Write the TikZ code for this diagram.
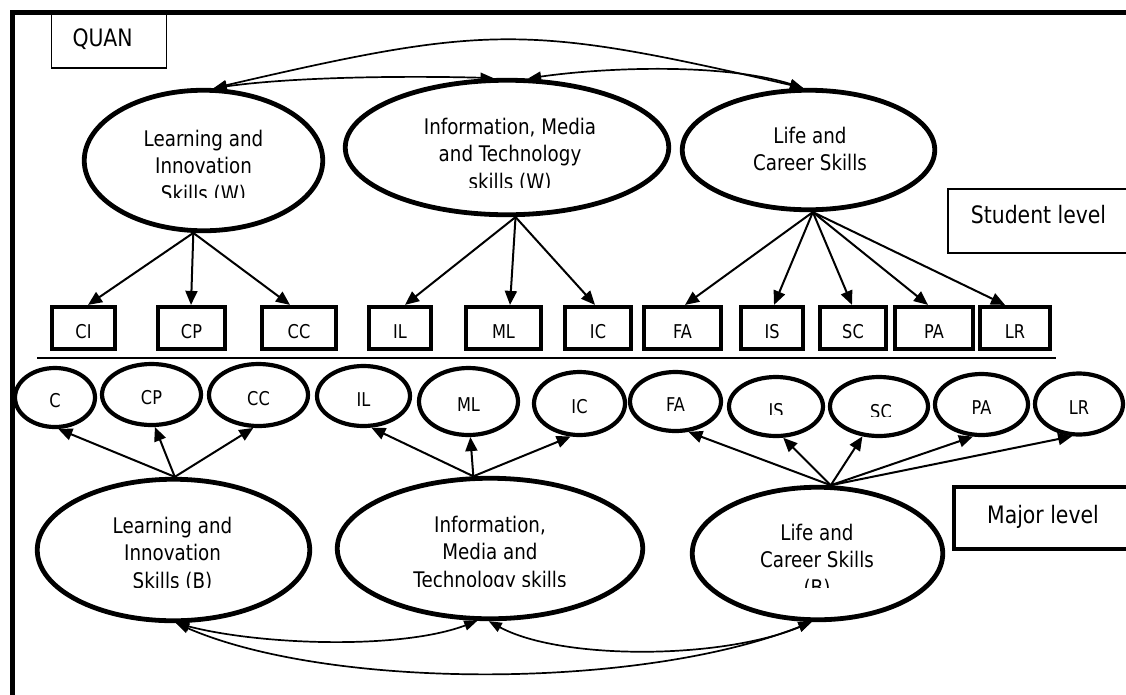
\documentclass[tikz,border=0pt]{standalone}
\usepackage{fontspec}
\setmainfont{DejaVu Sans}[FakeStretch=0.85]
\usetikzlibrary{shapes.geometric,arrows.meta}
\newcommand\Ls{\rule[-6.5pt]{0pt}{27.5pt}}
\begin{document}
\begin{tikzpicture}[x=1pt,y=-1pt,
  bigell/.style={ellipse,draw,line width=4.8pt,inner sep=0pt},
  smell/.style={ellipse,draw,line width=4.2pt,inner sep=0pt,font=\fontsize{19}{23}\selectfont,text height=20pt,text depth=0pt},
  ibox/.style={rectangle,draw,line width=4.2pt,inner sep=0pt,minimum height=42pt,font=\fontsize{19}{23}\selectfont,text height=20pt,text depth=0pt},
  mtext/.style={align=center,inner sep=0pt,outer sep=0pt,anchor=north,font=\fontsize{21.5}{27.5}\selectfont},
  stext/.style={inner sep=0pt,outer sep=0pt,anchor=base,font=\fontsize{19}{23}\selectfont},
  lvl/.style={rectangle,draw,inner sep=0pt,font=\fontsize{24}{28}\selectfont},
  con/.style={line width=2pt,arrows={-Triangle[length=14pt,width=12pt]}},
  cur/.style={line width=1.7pt,arrows={Triangle[length=13pt,width=10pt]-Triangle[length=13pt,width=10pt]}}
]
\useasboundingbox (0,0) rectangle (1126,694);
\fill[white] (0,0) rectangle (1126,694);
% frame
\draw[line width=4.5pt,line join=miter] (1140,12.5) -- (12.5,12.5) -- (12.5,710);
% labels
\node[lvl,line width=1.3pt,minimum height=55pt,text width=73pt,inner xsep=21pt,align=left,text height=17pt,text depth=6pt] (quan) at (109,40.5) {QUAN};
\node[lvl,line width=2pt,minimum width=181pt,minimum height=64pt,text height=17pt,text depth=13pt] (student) at (1038.5,221) {Student level};
\node[lvl,line width=4pt,minimum width=178pt,minimum height=62pt,text height=17pt,text depth=7pt] (major) at (1043,518) {Major level};
% big ellipses
\node[bigell,minimum width=238.5pt,minimum height=140.5pt] (LISw) at (203.5,160.5) {};
\node[bigell,minimum width=323.5pt,minimum height=134.5pt] (IMTw) at (507,147.5) {};
\node[bigell,minimum width=252.5pt,minimum height=119.5pt] (LCSw) at (808.5,150) {};
\node[bigell,minimum width=272.5pt,minimum height=141.5pt] (LISb) at (173.5,550) {};
\node[bigell,minimum width=305.5pt,minimum height=140.5pt] (IMTb) at (490,548.5) {};
\node[bigell,minimum width=250.5pt,minimum height=132.5pt] (LCSb) at (817.5,553.5) {};
% texts in big ellipses
\begin{scope}
\clip (80,100) rectangle (330,197);
\node[mtext] (LISwT) at (203.5,125) {\Ls Learning and\\\Ls Innovation\\\Ls Skills (W)};
\end{scope}
\begin{scope}
\clip (340,90) rectangle (675,187);
\node[mtext] (IMTwT) at (510,113) {\Ls Information, Media\\\Ls and Technology\\\Ls skills (W)};
\end{scope}
\node[mtext] (LCSwT) at (810,122) {\Ls Life and\\\Ls Career Skills};
\begin{scope}
\clip (35,490) rectangle (315,587);
\node[mtext] (LISbT) at (172.5,512) {\Ls Learning and\\\Ls Innovation\\\Ls Skills (B)};
\end{scope}
\begin{scope}
\clip (335,490) rectangle (645,586);
\node[mtext] (IMTbT) at (490,511) {\Ls Information,\\\Ls Media and\\\Ls Technology skills};
\end{scope}
\begin{scope}
\clip (690,490) rectangle (945,587);
\node[mtext] (LCSbT) at (817,519) {\Ls Life and\\\Ls Career Skills\\\Ls (B)};
\end{scope}
% boxes
\node[ibox,minimum width=63pt] (CIw) at (83.5,328) {CI};
\node[ibox,minimum width=67pt] (CPw) at (191.5,328) {CP};
\node[ibox,minimum width=74pt] (CCw) at (299,328) {CC};
\node[ibox,minimum width=62pt] (ILw) at (400,328) {IL};
\node[ibox,minimum width=75pt] (MLw) at (503.5,328) {ML};
\node[ibox,minimum width=66pt] (ICw) at (598,328) {IC};
\node[ibox,minimum width=77pt] (FAw) at (682.5,328) {FA};
\node[ibox,minimum width=62pt] (ISw) at (772,328) {IS};
\node[ibox,minimum width=66pt] (SCw) at (853,328) {SC};
\node[ibox,minimum width=78pt] (PAw) at (934,328) {PA};
\node[ibox,minimum width=70pt] (LRw) at (1015,328) {LR};
% separator
\draw[line width=1.6pt] (37,358) -- (1056,358);
% small ellipses
\node[smell,minimum width=80pt,minimum height=59pt] (Cb) at (55,397.5) {C};
\node[smell,minimum width=99pt,minimum height=61pt] (CPb) at (151.5,394.5) {CP};
\node[smell,minimum width=99pt,minimum height=62pt] (CCb) at (258.5,395) {CC};
\node[smell,minimum width=93pt,minimum height=60pt] (ILb) at (363.5,396) {IL};
\node[smell,minimum width=99pt,minimum height=67pt] (MLb) at (468.5,401.5) {ML};
\node[smell,minimum width=91pt,minimum height=63pt] (ICb) at (579.5,403.5) {IC};
\node[smell,minimum width=91pt,minimum height=59pt] (FAb) at (675.5,401.5) {FA};
\node[smell,minimum width=94pt,minimum height=59pt] (ISb) at (776,406.5) {};
\node[smell,minimum width=98pt,minimum height=59pt] (SCb) at (879,406.5) {};
\node[smell,minimum width=93pt,minimum height=61pt] (PAb) at (981.5,404.5) {PA};
\node[smell,minimum width=88pt,minimum height=61pt] (LRb) at (1079,404) {LR};
\begin{scope}
\clip (740,380) rectangle (815,414);
\node[stext] (ISbT) at (776,417) {IS};
\end{scope}
\begin{scope}
\clip (840,380) rectangle (920,416);
\node[stext] (SCbT) at (881,418) {SC};
\end{scope}
% top arrows
\draw[con] (LISw.-98) -- ([xshift=4.5pt]CIw.north);
\draw[con] (LISw.-98) -- ([xshift=-0.5pt]CPw.north);
\draw[con] (LISw.-98) -- ([xshift=-9pt]CCw.north);
\draw[con] (IMTw.-83.5) -- ([xshift=5pt]ILw.north);
\draw[con] (IMTw.-83.5) -- ([xshift=6.5pt]MLw.north);
\draw[con] (IMTw.-83.5) -- ([xshift=-3pt]ICw.north);
\draw[con] (LCSw.-86.8) -- ([xshift=2.5pt]FAw.north);
\draw[con] (LCSw.-86.8) -- ([xshift=2pt]ISw.north);
\draw[con] (LCSw.-86.8) -- ([xshift=-1pt]SCw.north);
\draw[con] (LCSw.-86.8) -- ([xshift=-6pt]PAw.north);
\draw[con] (LCSw.-86.8) -- ([xshift=-10pt]LRw.north);
% bottom arrows
\draw[con] (LISb.89) -- (Cb.-84.7);
\draw[con] (LISb.89) -- (CPb.-84);
\draw[con] (LISb.89) -- (CCb.-99.5);
\draw[con] (IMTb.103) -- (ILb.-76.7);
\draw[con] (IMTb.103) -- (MLb.-87.6);
\draw[con] (IMTb.103) -- (ICb.-105.4);
\draw[con] (LCSb.79.7) -- (FAb.-67.7);
\draw[con] (LCSb.79.7) -- (ISb.-77);
\draw[con] (LCSb.79.7) -- (SCb.-119);
\draw[con] (LCSb.79.7) -- (PAb.-105);
\draw[con] (LCSb.79.7) -- (LRb.-102.5);
% correlations top
\draw[cur] (LISw.82.5) .. controls (490,24) and (526,24) .. (LCSw.95);
\draw[cur] (LISw.82.5) .. controls (300,76) and (420,76) .. (IMTw.101.7);
\draw[cur] (IMTw.73.5) .. controls (600,68) and (720,62) .. (LCSw.95);
% correlations bottom
\draw[cur] (LISb.-88) .. controls (260,645) and (400,650) .. (IMTb.-100.8);
\draw[cur] (IMTb.-91.5) .. controls (560,660) and (720,660) .. (LCSb.-95.4);
\draw[cur] (LISb.-88) .. controls (330,690) and (640,690) .. (LCSb.-95.4);
\end{tikzpicture}
\end{document}
